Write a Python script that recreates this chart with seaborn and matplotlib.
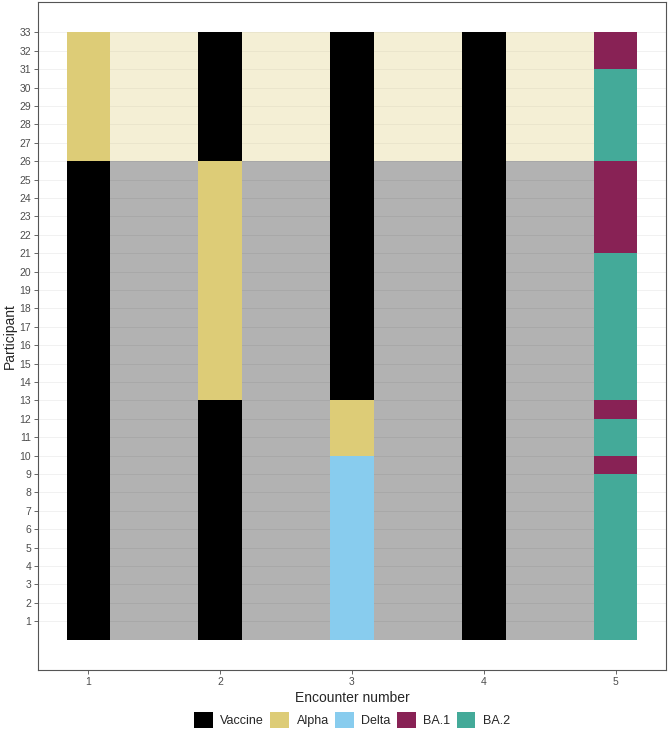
import pandas as pd
import seaborn as sns
import matplotlib.pyplot as plt
from matplotlib.patches import Patch

# Variant per encounter, as runs from participant 1 upwards: (variant, number of participants)
enc1 = [("Vaccine", 26), ("Alpha", 7)]
enc2 = [("Vaccine", 13), ("Alpha", 13), ("Vaccine", 7)]
enc3 = [("Delta", 10), ("Alpha", 3), ("Vaccine", 20)]
enc4 = [("Vaccine", 33)]
enc5 = [("BA.2", 9), ("BA.1", 1), ("BA.2", 2), ("BA.1", 1), ("BA.2", 8),
        ("BA.1", 5), ("BA.2", 5), ("BA.1", 2)]

variants = ["Vaccine", "Alpha", "Delta", "BA.1", "BA.2"]
colores = ["#000000", "#DDCC77", "#88CCEE", "#882255", "#44AA99"]
paleta = dict(zip(variants, colores))


def expandir(runs, encounter):
    filas = []
    p = 1
    for variant, n in runs:
        for _ in range(n):
            filas.append({"Participant": p, "Encounter": encounter, "Variant": variant})
            p += 1
    return filas


def main():
    filas = []
    for i, runs in enumerate([enc1, enc2, enc3, enc4, enc5], start=1):
        filas += expandir(runs, i)
    df = pd.DataFrame(filas)

    sns.set_theme(style="whitegrid")
    plt.rcParams["font.family"] = ["Liberation Sans", "DejaVu Sans"]

    fig = plt.figure(figsize=(6.69, 7.48), dpi=100)
    ax = fig.add_axes([38 / 669, 78 / 748, 628 / 669, 668 / 748])

    w = 1 / 3
    # fondo entre encuentros, con el color del primer encuentro
    primero = df[df["Encounter"] == 1].set_index("Participant")["Variant"]
    for enc in range(1, 5):
        ax.bar([enc + 0.5] * len(primero), [1] * len(primero),
               bottom=primero.index - 1, width=1 - w,
               color=[paleta[v] for v in primero.values], alpha=0.3,
               linewidth=0, zorder=1)

    # celdas de cada encuentro
    ax.bar(df["Encounter"], 1, bottom=df["Participant"] - 1, width=w,
           color=df["Variant"].map(paleta), linewidth=0, zorder=2)

    ax.set_xlim(0.617, 5.383)
    ax.set_ylim(-1.65, 34.65)
    ax.set_xticks(range(1, 6))
    ax.set_yticks(range(1, 34))
    ax.grid(axis="x", visible=False)
    ax.grid(axis="y", color="#EBEBEB", linewidth=0.5)
    ax.set_axisbelow(True)
    ax.tick_params(axis="both", which="major", labelsize=7.5, colors="#4D4D4D",
                   length=3, width=0.6, pad=2, left=True, bottom=True)
    for s in ax.spines.values():
        s.set_color("#555555")
        s.set_linewidth(0.8)

    ax.set_xlabel("Encounter number", fontsize=10, labelpad=3)
    ax.set_ylabel("Participant", fontsize=10, labelpad=2)

    handles = [Patch(facecolor=paleta[v], edgecolor="none", label=v) for v in variants]
    fig.legend(handles=handles, loc="center", bbox_to_anchor=(352 / 669, 1 - 720 / 748),
               ncol=5, frameon=False, fontsize=9, handlelength=1.5, handleheight=1.5,
               handletextpad=0.6, columnspacing=0.5)

    plt.savefig("out.png", dpi=100)
    plt.close()


if __name__ == "__main__":
    main()
